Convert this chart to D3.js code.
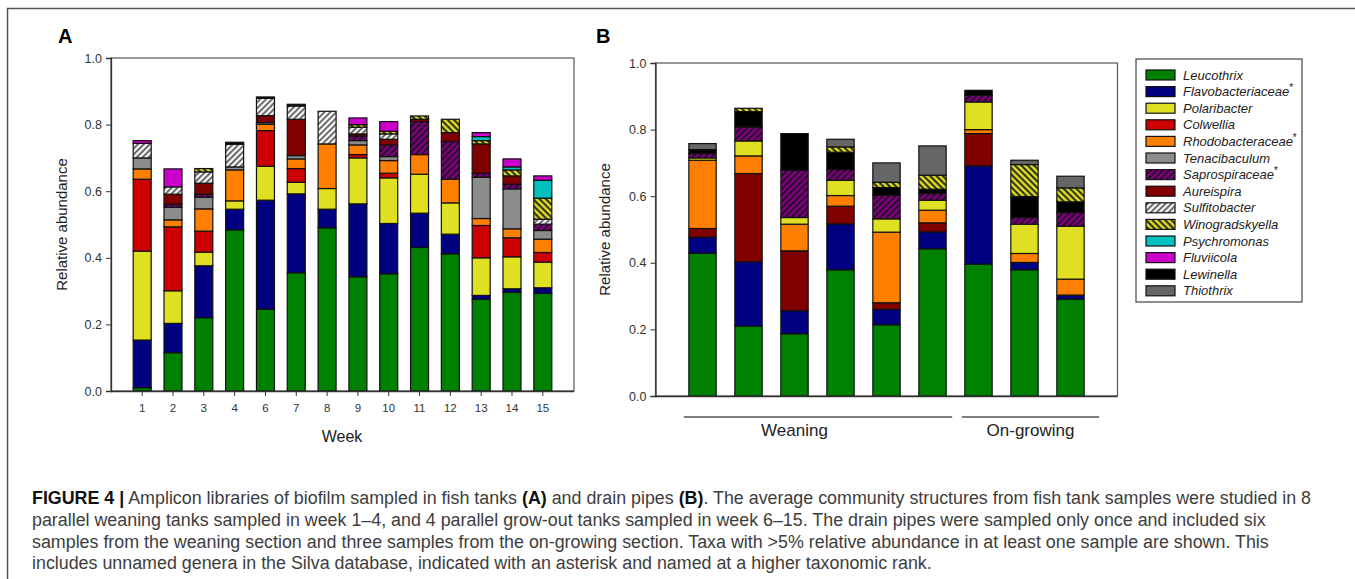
<!DOCTYPE html>
<html>
<head>
<meta charset="utf-8">
<script src="https://cdn.jsdelivr.net/npm/d3@7"></script>
<style>
body { margin: 0; background: #fff; }
svg { display: block; font-family: "Liberation Sans", Arial, sans-serif; }
</style>
</head>
<body>
<svg id="fig" width="1355" height="579"></svg>
<script>
// taxa in legend order
const taxa = ["Leucothrix", "Flavobacteriaceae", "Polaribacter", "Colwellia", "Rhodobacteraceae",
	"Tenacibaculum", "Saprospiraceae", "Aureispira", "Sulfitobacter", "Winogradskyella",
	"Psychromonas", "Fluviicola", "Lewinella", "Thiothrix"];
const starred = ["Flavobacteriaceae", "Rhodobacteraceae", "Saprospiraceae"];
const taxaColors = ["#008000", "#000080", "#e0e022", "#cc0000", "#ff8000", "#8c8c8c", "#800080",
	"#800000", "#ffffff", "#e0e022", "#00c0c0", "#cc00cc", "#000000", "#666666"];

// panel A: fish tanks, by week
const weeks = ["1", "2", "3", "4", "6", "7", "8", "9", "10", "11", "12", "13", "14", "15"];
const aLeucothrix = [.010, .115, .220, .484, .246, .355, .490, .343, .352, .431, .412, .275, .296, .293];
const aFlavo = [.143, .088, .156, .062, .327, .237, .056, .219, .151, .103, .059, .012, .011, .017];
const aPolaribacter = [.267, .098, .041, .025, .102, .035, .062, .138, .137, .117, .094, .113, .096, .077];
const aColwellia = [.216, .192, .063, 0, .107, .041, 0, .010, .014, 0, 0, .097, .057, .029];
const aRhodo = [.031, .021, .067, .093, .019, .029, .134, .029, .038, .059, .071, .021, .027, .040];
const aTenacibaculum = [.033, .038, .035, .009, .005, .010, 0, .013, .012, 0, 0, .124, .120, .026];
const aSapro = [0, .009, .009, 0, 0, 0, 0, .014, .035, .099, .113, .012, .014, .019];
const aAureispira = [0, .030, .033, 0, .021, .109, 0, .006, .017, .007, .027, .088, .025, 0];
const aSulfitobacter = [.044, .022, .034, .068, .052, .040, .098, .020, .016, 0, 0, 0, 0, .015];
const aWinogradskyella = [0, 0, .010, 0, 0, 0, 0, .008, .008, .010, .040, .010, .018, .063];
const aPsychromonas = [0, 0, 0, 0, 0, 0, 0, 0, 0, 0, 0, .012, .009, .054];
const aFluviicola = [.008, .054, 0, 0, 0, 0, 0, .020, .029, 0, 0, .012, .024, .013];
const aLewinella = [0, 0, 0, .006, .004, .005, 0, 0, 0, 0, 0, 0, 0, 0];

// panel B: drain pipes
const samples = ["W1", "W2", "W3", "W4", "W5", "W6", "G1", "G2", "G3"];
const bLeucothrix = [.429, .210, .187, .379, .214, .442, .396, .379, .291];
const bFlavo = [.048, .193, .069, .138, .046, .051, .295, .022, .012];
const bAureispira = [.026, .265, .180, .053, .020, .027, .097, 0, 0];
const bRhodo = [.205, .053, .080, .032, .212, .038, .012, .027, .048];
const bPolaribacter = [.007, .045, .020, .046, .040, .030, .083, .088, .159];
const bSapro = [.013, .042, .142, .032, .071, .020, .020, .020, .041];
const bLewinella = [.012, .046, .110, .052, .023, .013, .015, .063, .032];
const bWinogradskyella = [0, .010, 0, .016, .016, .042, 0, .096, .042];
const bThiothrix = [.018, 0, 0, .023, .058, .088, 0, .013, .035];

const yTicks = [0, 0.2, 0.4, 0.6, 0.8, 1.0];

const seriesA = {
	"Leucothrix": aLeucothrix, "Flavobacteriaceae": aFlavo, "Polaribacter": aPolaribacter,
	"Colwellia": aColwellia, "Rhodobacteraceae": aRhodo, "Tenacibaculum": aTenacibaculum,
	"Saprospiraceae": aSapro, "Aureispira": aAureispira, "Sulfitobacter": aSulfitobacter,
	"Winogradskyella": aWinogradskyella, "Psychromonas": aPsychromonas, "Fluviicola": aFluviicola,
	"Lewinella": aLewinella
};
const seriesB = {
	"Leucothrix": bLeucothrix, "Flavobacteriaceae": bFlavo, "Aureispira": bAureispira,
	"Rhodobacteraceae": bRhodo, "Polaribacter": bPolaribacter, "Saprospiraceae": bSapro,
	"Lewinella": bLewinella, "Winogradskyella": bWinogradskyella, "Thiothrix": bThiothrix
};

const svg = d3.select("#fig");
const defs = svg.append("defs");

function hatch(id, bg, fg, angle, gap, w) {
	const p = defs.append("pattern").attr("id", id)
		.attr("patternUnits", "userSpaceOnUse")
		.attr("width", gap).attr("height", gap)
		.attr("patternTransform", `rotate(${angle})`);
	p.append("rect").attr("width", gap).attr("height", gap).attr("fill", bg);
	p.append("line").attr("x1", gap / 2).attr("y1", 0).attr("x2", gap / 2).attr("y2", gap)
		.attr("stroke", fg).attr("stroke-width", w);
}
hatch("h-sapro", "#800080", "#111", 45, 4.5, 1.6);
hatch("h-sulfito", "#ffffff", "#555", 45, 4.2, 1.8);
hatch("h-wino", "#e0e022", "#111", -45, 4.5, 1.8);

function fillFor(name) {
	if (name === "Saprospiraceae") return "url(#h-sapro)";
	if (name === "Sulfitobacter") return "url(#h-sulfito)";
	if (name === "Winogradskyella") return "url(#h-wino)";
	return taxaColors[taxa.indexOf(name)];
}

// outer figure frame (top and left only visible)
svg.append("path").attr("d", "M7.5,590 V8.5 H1360")
	.attr("fill", "none").attr("stroke", "#555").attr("stroke-width", 1.5);

function stackedPanel(cfg) {
	const { cats, series, left, right, top, bottom, pIn, pOut, xTicks, label, labelX, ytitleX } = cfg;
	const keys = Object.keys(series);
	const rows = cats.map((c, i) => {
		const r = { cat: c };
		keys.forEach(k => { r[k] = series[k][i]; });
		return r;
	});
	const x = d3.scaleBand().domain(cats).range([left, right]).paddingInner(pIn).paddingOuter(pOut);
	const y = d3.scaleLinear().domain([0, 1]).range([bottom, top]);
	const g = svg.append("g");

	// plot frame
	g.append("rect").attr("x", left).attr("y", top).attr("width", right - left).attr("height", bottom - top)
		.attr("fill", "none").attr("stroke", "#555").attr("stroke-width", 1.2);

	const stacked = d3.stack().keys(keys)(rows);
	g.selectAll("g.layer").data(stacked).join("g").attr("class", "layer")
		.attr("fill", d => fillFor(d.key))
		.selectAll("rect").data(d => d.filter(p => p[1] - p[0] > 0)).join("rect")
		.attr("x", d => x(d.data.cat))
		.attr("width", x.bandwidth())
		.attr("y", d => y(d[1]))
		.attr("height", d => y(d[0]) - y(d[1]))
		.attr("stroke", "#111").attr("stroke-width", 1.2);

	const ya = g.append("g").attr("transform", `translate(${left},0)`)
		.call(d3.axisLeft(y).tickValues(yTicks).tickFormat(d3.format(".1f")).tickSize(5).tickPadding(4));
	ya.select(".domain").attr("stroke", "#333").attr("stroke-width", 1.3);
	ya.selectAll("line").attr("stroke", "#333");
	ya.selectAll("text").attr("font-size", 12.5).attr("fill", "#333").attr("font-family", null);

	const xa = g.append("g").attr("transform", `translate(0,${bottom})`)
		.call(d3.axisBottom(x).tickSize(xTicks ? 5 : 0).tickSizeOuter(0).tickFormat(xTicks ? (d => d) : ""));
	xa.select(".domain").attr("stroke", "#333").attr("stroke-width", 1.3)
		.attr("d", `M${left},0.5H${right}`);
	xa.selectAll("line").attr("stroke", "#333");
	xa.selectAll("text").attr("font-size", 11.5).attr("fill", "#333").attr("font-family", null).attr("dy", "1.1em");

	svg.append("text").attr("x", labelX).attr("y", 43).attr("font-size", 20).attr("font-weight", "bold")
		.attr("fill", "#000").text(label);

	svg.append("text")
		.attr("transform", `translate(${ytitleX},${(top + bottom) / 2}) rotate(-90)`)
		.attr("text-anchor", "middle").attr("font-size", 15).attr("fill", "#222")
		.text("Relative abundance");
	return x;
}

stackedPanel({
	cats: weeks, series: seriesA, left: 111, right: 574, top: 58, bottom: 391,
	pIn: 0.416, pOut: 0.72, xTicks: true, label: "A", labelX: 58, ytitleX: 67
});
svg.append("text").attr("x", 342).attr("y", 442).attr("text-anchor", "middle")
	.attr("font-size", 16).attr("fill", "#222").text("Week");

const xB = stackedPanel({
	cats: samples, series: seriesB, left: 655.5, right: 1117.5, top: 63, bottom: 396,
	pIn: 0.406, pOut: 0.725, xTicks: false, label: "B", labelX: 596, ytitleX: 610
});

// group lines under panel B
const bw = xB.bandwidth();
const groups = [
	{ name: "Weaning", x0: xB("W1") - 5, x1: xB("W6") + bw + 6, cx: xB("W3") + bw / 2 },
	{ name: "On-growing", x0: xB("G1") - 3, x1: xB("G3") + bw + 15, cx: null }
];
groups.forEach(gr => {
	svg.append("line").attr("x1", gr.x0).attr("x2", gr.x1).attr("y1", 417).attr("y2", 417)
		.attr("stroke", "#555").attr("stroke-width", 1.3);
	svg.append("text").attr("x", gr.cx === null ? (gr.x0 + gr.x1) / 2 : gr.cx).attr("y", 436)
		.attr("text-anchor", "middle").attr("font-size", 17).attr("fill", "#222").text(gr.name);
});

// legend
const lg = svg.append("g");
lg.append("rect").attr("x", 1136).attr("y", 59).attr("width", 166).attr("height", 243)
	.attr("fill", "#fff").attr("stroke", "#444").attr("stroke-width", 1.2);
taxa.forEach((t, i) => {
	const cy = 75 + i * 16.6;
	lg.append("rect").attr("x", 1146).attr("y", cy - 5).attr("width", 29).attr("height", 10)
		.attr("fill", fillFor(t)).attr("stroke", "#111").attr("stroke-width", 1.2);
	const tx = lg.append("text").attr("x", 1183).attr("y", cy + 4.5)
		.attr("font-size", 13).attr("font-style", "italic").attr("fill", "#222").text(t);
	if (starred.includes(t)) {
		tx.append("tspan").attr("dy", -5).attr("font-size", 10).attr("font-style", "normal").text("*");
	}
});

// caption
const capLines = [
	[["FIGURE 4 |", true], [" Amplicon libraries of biofilm sampled in fish tanks ", false], ["(A)", true],
		[" and drain pipes ", false], ["(B)", true],
		[". The average community structures from fish tank samples were studied in 8", false]],
	[["parallel weaning tanks sampled in week 1\u20134, and 4 parallel grow-out tanks sampled in week 6\u201315. The drain pipes were sampled only once and included six", false]],
	[["samples from the weaning section and three samples from the on-growing section. Taxa with >5% relative abundance in at least one sample are shown. This", false]],
	[["includes unnamed genera in the Silva database, indicated with an asterisk and named at a higher taxonomic rank.", false]]
];
const capY = [504, 525.8, 547.6, 569.3];
const capTexts = capLines.map((parts, i) => {
	const t = svg.append("text").attr("x", 32).attr("y", capY[i]).attr("font-size", 15).attr("fill", "#3d3d3d");
	parts.forEach(([s, b]) => {
		const sp = t.append("tspan").text(s);
		if (b) sp.attr("font-weight", "bold").attr("fill", "#111");
	});
	return t;
});
// fit caption size so the first line ends where the reference's does
const w1 = capTexts[0].node().getComputedTextLength();
const fs = 15 * (1312 - 32) / w1;
capTexts.forEach(t => t.attr("font-size", fs));
</script>
</body>
</html>
